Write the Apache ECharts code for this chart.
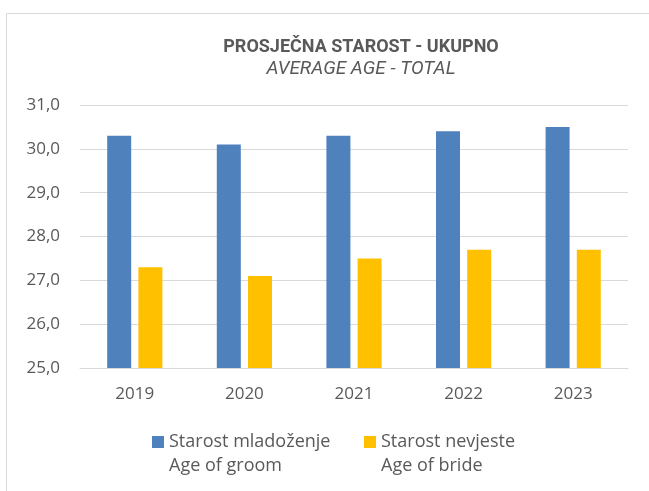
<!DOCTYPE html>
<html>
<head>
<meta charset="utf-8">
<script src="https://cdn.jsdelivr.net/npm/echarts@6/dist/echarts.min.js"></script>
<style>
  html,body{margin:0;padding:0;background:#fff;}
  #main{width:649px;height:491px;}
</style>
</head>
<body>
<div id="main"></div>
<script>
// data
const years = ['2019', '2020', '2021', '2022', '2023'];
const groomAge = [30.3, 30.1, 30.3, 30.4, 30.5];
const brideAge = [27.3, 27.1, 27.5, 27.7, 27.7];
const groomName = 'Starost mladoženje';
const brideName = 'Starost nevjeste';
const subNames = {};
subNames[groomName] = 'Age of groom';
subNames[brideName] = 'Age of bride';

const chart = echarts.init(document.getElementById('main'));
const font = 'Open Sans';
const txt = '#595959';

// square on top, empty extent below so the icon sits next to the first text line
const legendCommon = {
  top: 425,
  itemWidth: 12,
  itemHeight: 36,
  icon: 'path://M0,0h10v10h-10z M0,30h10',
  itemGap: 4,
  formatter: function (n) { return n + '\n' + subNames[n]; },
  textStyle: { fontFamily: font, fontSize: 18, color: txt, lineHeight: 24 }
};

chart.setOption({
  animation: false,
  graphic: [{
    type: 'rect',
    shape: { x: 6.5, y: 13.5, width: 700, height: 600 },
    style: { fill: 'none', stroke: '#d9d9d9', lineWidth: 1 },
    silent: true
  }],
  title: {
    text: 'PROSJEČNA STAROST - UKUPNO',
    subtext: 'AVERAGE AGE - TOTAL',
    left: 356,
    textAlign: 'center',
    top: 33,
    itemGap: 4,
    textStyle: {
      fontFamily: 'Liberation Sans Narrow, Roboto, sans-serif',
      fontWeight: 'bold', fontSize: 18, color: txt
    },
    subtextStyle: {
      fontFamily: 'Liberation Sans Narrow, Roboto, sans-serif',
      fontStyle: 'italic', fontSize: 19, color: txt
    }
  },
  legend: [
    Object.assign({}, legendCommon, { left: 147, data: [groomName] }),
    Object.assign({}, legendCommon, { left: 359, data: [brideName] })
  ],
  grid: { left: 80, right: 21, top: 105, bottom: 123 },
  xAxis: {
    type: 'category',
    data: years,
    axisLine: { lineStyle: { color: '#d9d9d9' } },
    axisTick: { show: false },
    axisLabel: { fontFamily: font, fontSize: 17, color: txt, margin: 18 }
  },
  yAxis: {
    type: 'value',
    min: 25,
    max: 31,
    interval: 1,
    axisLine: { show: false },
    axisTick: { show: false },
    splitLine: { lineStyle: { color: '#d9d9d9' } },
    axisLabel: {
      fontFamily: font, fontSize: 17, color: txt, margin: 20,
      formatter: function (v) { return v.toFixed(1).replace('.', ','); }
    }
  },
  series: [
    {
      name: groomName, type: 'bar', data: groomAge,
      barWidth: 24, barGap: '30%',
      itemStyle: { color: '#4F81BD' }
    },
    {
      name: brideName, type: 'bar', data: brideAge,
      barWidth: 24,
      itemStyle: { color: '#FFC000' }
    }
  ]
});
</script>
</body>
</html>
